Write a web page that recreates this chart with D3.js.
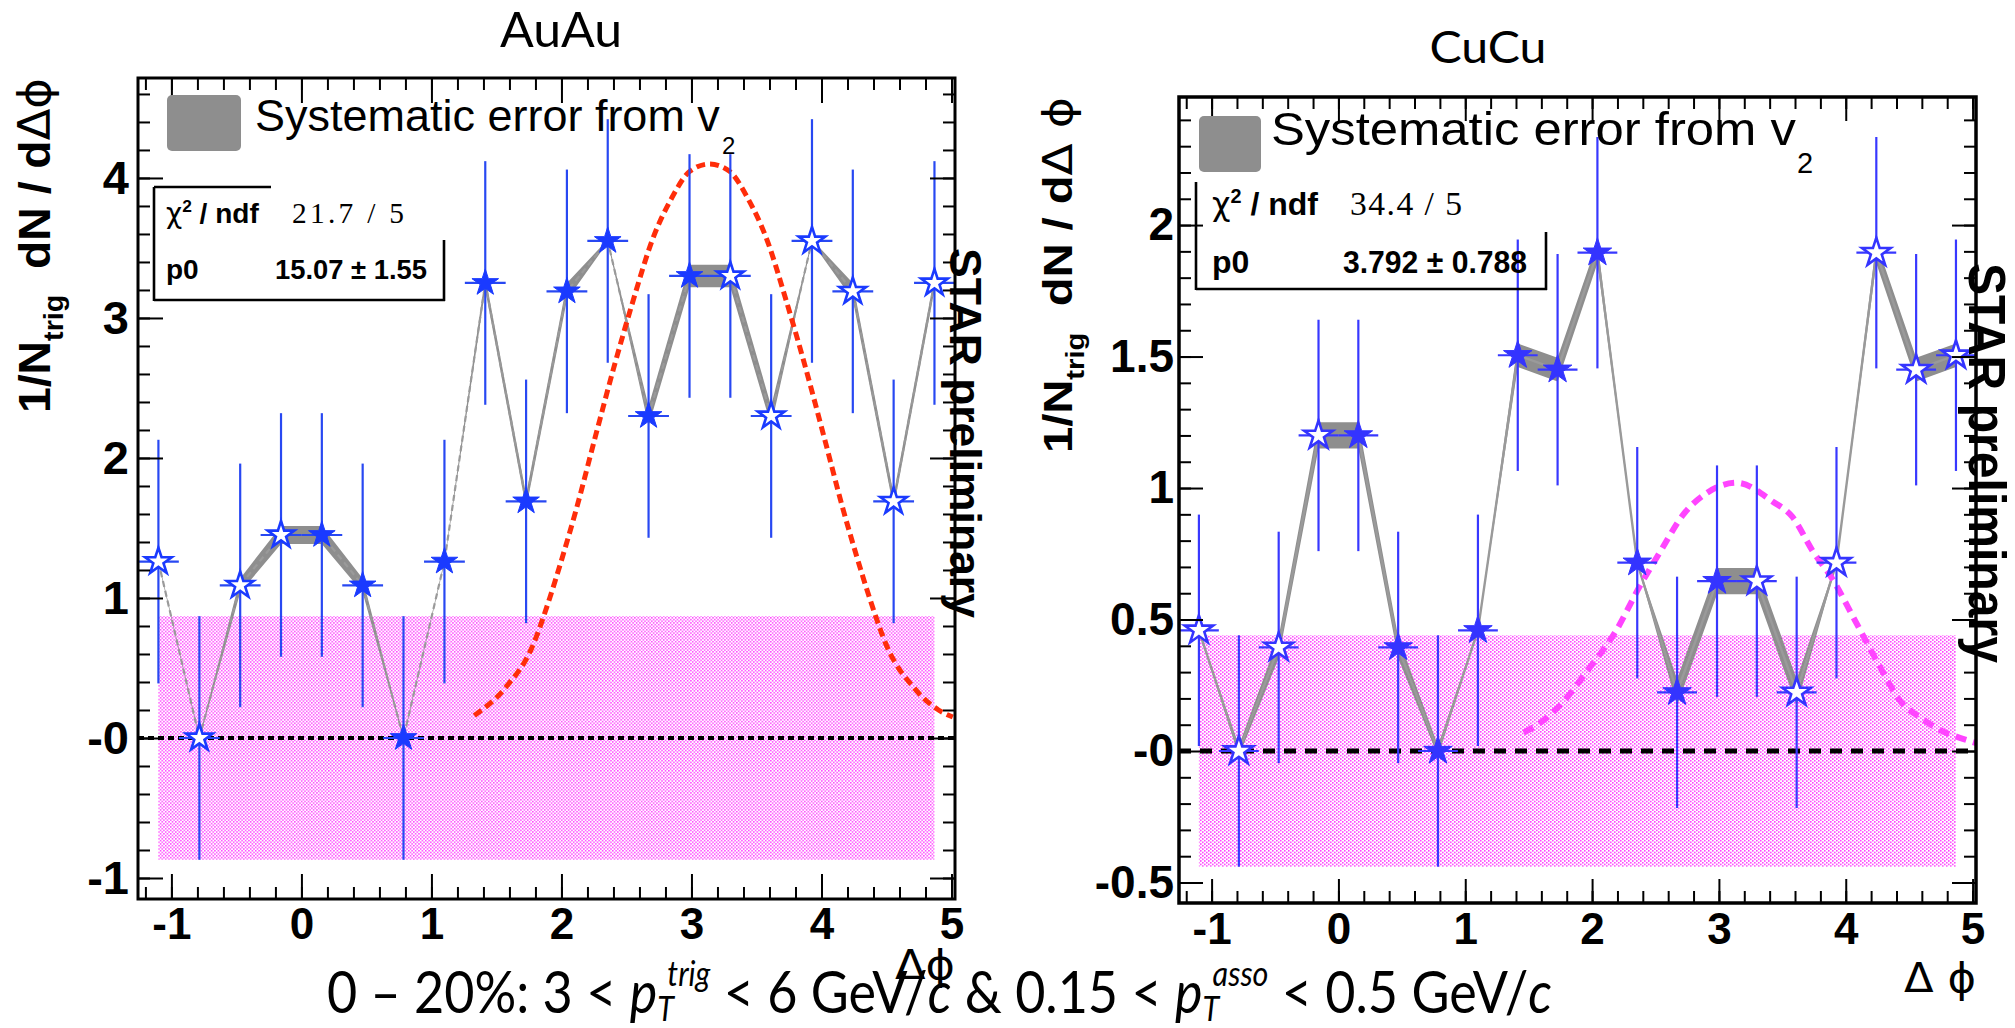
<!DOCTYPE html>
<html>
<head>
<meta charset="utf-8">
<script src="https://cdn.jsdelivr.net/npm/d3@7"></script>
<style>
  body { margin: 0; background: #fff; }
  svg { display: block; }
</style>
</head>
<body>
<svg id="canvas"></svg>
<script>
let width = 2015;
let height = 1028;

// bin centres in delta phi, shared by both panels
let phiCenters = [-1.100, -0.785, -0.471, -0.157, 0.157, 0.471, 0.785, 1.100, 1.414, 1.728,
                  2.042, 2.356, 2.670, 2.985, 3.299, 3.613, 3.927, 4.241, 4.555, 4.869];
// filled star = measured bin, open star = reflected bin
let filledFlags = [false, false, false, false, true, true, true, true, true, true,
                   true, true, true, true, false, false, false, false, false, false];
let binHalfWidth = 0.157;

// AuAu
let auauValues = [1.26, 0.00, 1.09, 1.45, 1.45, 1.09, 0.00, 1.26, 3.25, 1.69,
                  3.19, 3.55, 2.30, 3.30, 3.30, 2.30, 3.55, 3.19, 1.69, 3.25];
let auauErrors = [0.87, 0.87, 0.87, 0.87, 0.87, 0.87, 0.87, 0.87, 0.87, 0.87,
                  0.87, 0.87, 0.87, 0.87, 0.87, 0.87, 0.87, 0.87, 0.87, 0.87];
let auauSys = [0.01, 0.01, 0.05, 0.065, 0.065, 0.05, 0.01, 0.01, 0.05, 0.05,
               0.06, 0.01, 0.07, 0.08, 0.08, 0.07, 0.01, 0.06, 0.05, 0.05];
let auauBandHalf = 0.87;
let auauFitPhi = [1.33, 1.57, 1.77, 1.91, 2.01, 2.11, 2.26, 2.41, 2.55, 2.70, 2.85, 2.99, 3.14,
                  3.29, 3.43, 3.58, 3.73, 3.87, 4.02, 4.17, 4.27, 4.37, 4.51, 4.71, 4.90, 5.01];
let auauFitValues = [0.16, 0.36, 0.64, 1.00, 1.30, 1.62, 2.15, 2.67, 3.12, 3.56, 3.86, 4.05, 4.10,
                     4.05, 3.86, 3.56, 3.12, 2.67, 2.15, 1.62, 1.30, 1.00, 0.64, 0.36, 0.20, 0.15];
let auauYTicks = [-1, 0, 1, 2, 3, 4];
let auauYLabels = ['-1', '-0', '1', '2', '3', '4'];

// CuCu
let cucuValues = [0.459, 0.000, 0.394, 1.200, 1.200, 0.394, 0.000, 0.459, 1.505, 1.450,
                  1.895, 0.716, 0.223, 0.646, 0.646, 0.223, 0.716, 1.895, 1.450, 1.505];
let cucuErrors = [0.44, 0.44, 0.44, 0.44, 0.44, 0.44, 0.44, 0.44, 0.44, 0.44,
                  0.44, 0.44, 0.44, 0.44, 0.44, 0.44, 0.44, 0.44, 0.44, 0.44];
let cucuSys = [0.005, 0.02, 0.04, 0.05, 0.05, 0.04, 0.02, 0.005, 0.045, 0.045,
               0.04, 0.005, 0.05, 0.05, 0.05, 0.05, 0.005, 0.04, 0.045, 0.045];
let cucuBandHalf = 0.44;
let cucuFitPhi = [1.46, 1.60, 1.76, 1.97, 2.18, 2.38, 2.54, 2.72, 2.90, 3.14, 3.42,
                  3.58, 3.74, 3.90, 4.08, 4.27, 4.43, 4.61, 4.74, 4.90, 5.03];
let cucuFitValues = [0.07, 0.11, 0.18, 0.31, 0.45, 0.63, 0.76, 0.90, 0.98, 1.02, 0.95,
                     0.89, 0.76, 0.65, 0.49, 0.32, 0.19, 0.12, 0.08, 0.05, 0.03];
let cucuYTicks = [-0.5, 0, 0.5, 1, 1.5, 2];
let cucuYLabels = ['-0.5', '-0', '0.5', '1', '1.5', '2'];

let xTicks = [-1, 0, 1, 2, 3, 4, 5];
let xLabels = ['-1', '0', '1', '2', '3', '4', '5'];

let helv = 'Liberation Sans, Arial, Helvetica, sans-serif';
let slide = 'Lato, Open Sans, sans-serif';

let svg = d3.select('#canvas').attr('width', width).attr('height', height);

let defs = svg.append('defs');
let addDots = (id, w, h, dot, color) => {
  let p = defs.append('pattern').attr('id', id).attr('patternUnits', 'userSpaceOnUse')
    .attr('width', w).attr('height', h);
  p.append('rect').attr('width', w).attr('height', h).attr('fill', '#fff');
  p.append('rect').attr('x', 0).attr('y', 0).attr('width', dot).attr('height', dot).attr('fill', color);
  p.append('rect').attr('x', w / 2).attr('y', h / 2).attr('width', dot).attr('height', dot).attr('fill', color);
};
addDots('dotsL', 3.4, 3.4, 1.5, '#ff44ff');
addDots('dotsR', 4, 3.4, 1.6, '#ff44ff');

let fitText = (sel, x, y, rot, target) => {
  let w = sel.node().getComputedTextLength();
  let s = target ? target / w : 1;
  sel.attr('transform', 'translate(' + x + ',' + y + ') rotate(' + rot + ') scale(' + s + ',1)');
};

let drawPanel = (p) => {
  let g = svg.append('g');
  let xScale = d3.scaleLinear().domain([-1.257, 5.027]).range([p.left, p.right]);
  let yScale = d3.scaleLinear().domain([p.yMin, p.yMax]).range([p.bottom, p.top]);
  let pts = phiCenters.map((phi, i) => ({ phi: phi, v: p.values[i], e: p.errors[i], s: p.sys[i], filled: filledFlags[i] }));

  // normalisation band
  g.append('rect')
    .attr('x', xScale(phiCenters[0]))
    .attr('y', yScale(p.bandHalf))
    .attr('width', xScale(phiCenters[phiCenters.length - 1]) - xScale(phiCenters[0]))
    .attr('height', yScale(-p.bandHalf) - yScale(p.bandHalf))
    .attr('fill', 'url(#' + p.pattern + ')');

  // zero line
  g.append('line')
    .attr('x1', p.left).attr('x2', p.right)
    .attr('y1', yScale(0)).attr('y2', yScale(0))
    .attr('stroke', '#000').attr('stroke-width', p.zeroWidth).attr('stroke-dasharray', p.zeroDash);

  // v2 systematic band
  let area = d3.area().x(d => xScale(d.phi)).y0(d => yScale(d.v - d.s)).y1(d => yScale(d.v + d.s));
  g.append('path').attr('d', area(pts)).attr('fill', '#8e8e8e');

  let line = d3.line().x(d => xScale(d.phi)).y(d => yScale(d.v));
  g.append('path').attr('d', line(pts)).attr('fill', 'none')
    .attr('stroke', '#9a9a9a').attr('stroke-width', p.lineWidth)
    .attr('stroke-dasharray', p.lineDash);

  // fit curve
  let fitPts = p.fitPhi.map((phi, i) => [xScale(phi), yScale(p.fitValues[i])]);
  g.append('path').attr('d', d3.line().curve(d3.curveMonotoneX)(fitPts))
    .attr('fill', 'none').attr('stroke', p.fitColor).attr('stroke-width', p.fitWidth)
    .attr('stroke-dasharray', p.fitDash);

  // error bars
  g.selectAll('.ey').data(pts).enter().append('line')
    .attr('x1', d => xScale(d.phi)).attr('x2', d => xScale(d.phi))
    .attr('y1', d => yScale(d.v + d.e)).attr('y2', d => yScale(d.v - d.e))
    .attr('stroke', p.barColor).attr('stroke-width', 2.2);
  g.selectAll('.ex').data(pts).enter().append('line')
    .attr('x1', d => xScale(d.phi - binHalfWidth)).attr('x2', d => xScale(d.phi + binHalfWidth))
    .attr('y1', d => yScale(d.v)).attr('y2', d => yScale(d.v))
    .attr('stroke', p.barColor).attr('stroke-width', 2.2);

  // star markers
  let star = d3.symbol(d3.symbolStar, p.starR * p.starR / 0.8908130915292852);
  g.selectAll('.star').data(pts).enter().append('path')
    .attr('d', star)
    .attr('transform', d => 'translate(' + xScale(d.phi) + ',' + yScale(d.v) + ')')
    .attr('fill', d => d.filled ? p.markerColor : '#fff')
    .attr('stroke', p.markerColor)
    .attr('stroke-width', d => d.filled ? 1 : 2.6)
    .attr('stroke-linejoin', 'miter');

  // ticks on all four sides, pointing inwards
  let xMinor = d3.range(-6, 26).map(i => i * 0.2);
  let yMinor = d3.range(Math.ceil(p.yMin / p.yMinorStep), Math.floor(p.yMax / p.yMinorStep) + 1).map(i => i * p.yMinorStep);
  let tickAxis = (axis, tr) => {
    let a = g.append('g').attr('transform', tr).call(axis);
    a.select('.domain').remove();
    a.selectAll('.tick line').attr('stroke', '#000').attr('stroke-width', 2);
    return a;
  };
  let xb = tickAxis(d3.axisBottom(xScale).tickValues(xTicks).tickSize(-p.majorLen).tickPadding(p.xPad)
    .tickFormat((d, i) => xLabels[i]), 'translate(0,' + p.bottom + ')');
  xb.selectAll('text').attr('font-family', helv).attr('font-weight', 'bold').attr('font-size', p.xFont).attr('fill', '#000');
  tickAxis(d3.axisBottom(xScale).tickValues(xMinor).tickSize(-p.minorLen).tickFormat(''), 'translate(0,' + p.bottom + ')');
  tickAxis(d3.axisTop(xScale).tickValues(xTicks).tickSize(-p.majorLen).tickFormat(''), 'translate(0,' + p.top + ')');
  tickAxis(d3.axisTop(xScale).tickValues(xMinor).tickSize(-p.minorLen).tickFormat(''), 'translate(0,' + p.top + ')');
  let yl = tickAxis(d3.axisLeft(yScale).tickValues(p.yTicks).tickSize(-p.majorLen).tickPadding(p.yPad)
    .tickFormat((d, i) => p.yLabels[i]), 'translate(' + p.left + ',0)');
  yl.selectAll('text').attr('font-family', helv).attr('font-weight', 'bold').attr('font-size', p.yFont).attr('fill', '#000');
  tickAxis(d3.axisLeft(yScale).tickValues(yMinor).tickSize(-p.minorLen).tickFormat(''), 'translate(' + p.left + ',0)');
  tickAxis(d3.axisRight(yScale).tickValues(p.yTicks).tickSize(-p.majorLen).tickFormat(''), 'translate(' + p.right + ',0)');
  tickAxis(d3.axisRight(yScale).tickValues(yMinor).tickSize(-p.minorLen).tickFormat(''), 'translate(' + p.right + ',0)');

  g.append('rect')
    .attr('x', p.left).attr('y', p.top)
    .attr('width', p.right - p.left).attr('height', p.bottom - p.top)
    .attr('fill', 'none').attr('stroke', '#000').attr('stroke-width', p.frameW);
  return g;
};

drawPanel({
  values: auauValues, errors: auauErrors, sys: auauSys, bandHalf: auauBandHalf,
  fitPhi: auauFitPhi, fitValues: auauFitValues, yTicks: auauYTicks, yLabels: auauYLabels,
  left: 138, right: 955, top: 78, bottom: 899, yMin: -1.15, yMax: 4.714, yMinorStep: 0.2,
  markerColor: '#1a3aff', barColor: '#2848f2', fitColor: '#ff2d0a', fitDash: '9,5', fitWidth: 5,
  lineWidth: 2.2, lineDash: '6,4', zeroDash: '6,4', zeroWidth: 4, pattern: 'dotsL',
  starR: 14, frameW: 3, majorLen: 25, minorLen: 12, xFont: 44, yFont: 47, xPad: 9, yPad: 9
});

drawPanel({
  values: cucuValues, errors: cucuErrors, sys: cucuSys, bandHalf: cucuBandHalf,
  fitPhi: cucuFitPhi, fitValues: cucuFitValues, yTicks: cucuYTicks, yLabels: cucuYLabels,
  left: 1179, right: 1976, top: 97, bottom: 903, yMin: -0.578, yMax: 2.487, yMinorStep: 0.1,
  markerColor: '#3434ff', barColor: '#3838ff', fitColor: '#ff44ff', fitDash: '11,7', fitWidth: 6,
  lineWidth: 2.4, lineDash: null, zeroDash: '12,9', zeroWidth: 5, pattern: 'dotsR',
  starR: 15, frameW: 3.5, majorLen: 24, minorLen: 12, xFont: 44, yFont: 46, xPad: 10, yPad: 5
});

// legends and fit boxes
let ann = svg.append('g');

let legend = (bx, by, bw, bh, tx, ty, size, target, sx, sy, ssize) => {
  ann.append('rect').attr('x', bx).attr('y', by).attr('width', bw).attr('height', bh)
    .attr('rx', 5).attr('fill', '#8e8e8e');
  let t = ann.append('text').attr('font-family', helv).attr('font-size', size).attr('fill', '#000')
    .text('Systematic error from v');
  fitText(t, tx, ty, 0, target);
  ann.append('text').attr('x', sx).attr('y', sy).attr('font-family', helv).attr('font-size', ssize)
    .attr('fill', '#000').text('2');
};
legend(167, 95, 74, 56, 255, 131, 44, 465, 722, 154, 24);
legend(1199, 116, 62, 56, 1271, 145, 47, 525, 1797, 173, 29);

let statBox = (segs, x0, y1, y2, size, chiVal, chiX, chiW, pVal, pX, pW) => {
  segs.forEach(s => ann.append('line').attr('x1', s[0]).attr('y1', s[1]).attr('x2', s[2]).attr('y2', s[3])
    .attr('stroke', '#000').attr('stroke-width', 2.6));
  let c = ann.append('text').attr('x', x0).attr('y', y1).attr('font-family', helv)
    .attr('font-weight', 'bold').attr('font-size', size).attr('fill', '#000');
  c.append('tspan').attr('font-weight', 'normal').attr('font-family', 'DejaVu Sans').text('χ');
  c.append('tspan').attr('font-size', size * 0.62).attr('dy', -size * 0.38).text('2');
  c.append('tspan').attr('dy', size * 0.38).text(' / ndf');
  ann.append('text').attr('x', chiX).attr('y', y1).attr('font-family', 'Liberation Serif, Times New Roman, serif')
    .attr('font-size', size * 1.05).attr('fill', '#000')
    .attr('textLength', chiW).attr('lengthAdjust', 'spacing').text(chiVal);
  ann.append('text').attr('x', x0).attr('y', y2).attr('font-family', helv)
    .attr('font-weight', 'bold').attr('font-size', size).attr('fill', '#000').text('p0');
  ann.append('text').attr('x', pX).attr('y', y2).attr('font-family', helv)
    .attr('font-weight', 'bold').attr('font-size', size).attr('fill', '#000')
    .attr('textLength', pW).attr('lengthAdjust', 'spacingAndGlyphs').text(pVal);
};
statBox([[154, 187, 154, 301], [154, 300, 445, 300], [154, 187, 271, 187], [444, 240, 444, 301]],
  166, 223, 279, 28, '21.7 / 5', 292, 112, '15.07 ± 1.55', 275, 152);
statBox([[1196, 182, 1196, 290], [1196, 289, 1547, 289], [1546, 232, 1546, 290]],
  1212, 215, 273, 32, '34.4 / 5', 1350, 112, '3.792 ± 0.788', 1343, 184);

// STAR preliminary
let star1 = ann.append('text').attr('font-family', helv).attr('font-weight', 'bold')
  .attr('font-size', 45).attr('fill', '#000').text('STAR preliminary');
fitText(star1, 950, 248, 90, 370);
let star2 = ann.append('text').attr('font-family', helv).attr('font-weight', 'bold')
  .attr('font-size', 52).attr('fill', '#000').text('STAR preliminary');
fitText(star2, 1969, 263, 90, 400);

// axis titles
let yTitle = (x, y, size, target, tail) => {
  let t = ann.append('text').attr('font-family', helv).attr('font-weight', 'bold')
    .attr('font-size', size).attr('fill', '#000');
  t.append('tspan').text('1/N');
  t.append('tspan').attr('font-size', size * 0.62).attr('dy', size * 0.3).text('trig');
  t.append('tspan').attr('dy', -size * 0.3).text('\u00a0\u00a0dN\u00a0/\u00a0d');
  t.append('tspan').attr('font-weight', 'normal').attr('font-family', 'DejaVu Sans').text(tail);
  fitText(t, x, y, -90, target);
};
yTitle(50, 413, 44, 335, 'Δϕ');
yTitle(1072, 453, 41, 356, 'Δ\u00a0ϕ');

let xt1 = ann.append('text').attr('font-family', 'DejaVu Sans').attr('font-size', 40)
  .attr('fill', '#000').text('Δϕ');
fitText(xt1, 895, 979, 0, 60);
let xt2 = ann.append('text').attr('font-family', 'DejaVu Sans').attr('font-size', 40)
  .attr('fill', '#000').text('Δ\u00a0ϕ');
fitText(xt2, 1904, 992, 0, 72);

// panel titles
let title1 = ann.append('text').attr('font-family', slide).attr('font-size', 48)
  .attr('text-anchor', 'middle').attr('fill', '#000').text('AuAu');
fitText(title1, 561, 47, 0, 122);
let title2 = ann.append('text').attr('font-family', slide).attr('font-size', 44)
  .attr('text-anchor', 'middle').attr('fill', '#000').text('CuCu');
fitText(title2, 1488, 63, 0, 117);

// caption with stacked sub/superscripts
let capRuns = [
  { t: '0 – 20%: 3 < ' }, { t: 'p', it: true }, { t: 'T', it: true, sub: true }, { t: 'trig', it: true, sup: true },
  { t: ' < 6 GeV/' }, { t: 'c', it: true }, { t: ' & 0.15 < ' }, { t: 'p', it: true },
  { t: 'T', it: true, sub: true }, { t: 'asso', it: true, sup: true }, { t: ' < 0.5 GeV/' }, { t: 'c', it: true }
];
let cap = ann.append('g');
let cx = 0, subStart = 0, subEnd = 0;
capRuns.forEach(r => {
  let size = (r.sub || r.sup) ? 34 : 58;
  let t = cap.append('text').attr('font-family', slide).attr('font-size', size).attr('fill', '#000')
    .attr('font-style', r.it ? 'italic' : 'normal')
    .text(r.t.replace(/ /g, '\u00a0'));
  let w = t.node().getComputedTextLength();
  if (r.sub) {
    t.attr('x', cx).attr('y', 8);
    subStart = cx; subEnd = cx + w; cx = subEnd;
  } else if (r.sup) {
    let sx = subStart + (subEnd - subStart) * 0.6;
    t.attr('x', sx).attr('y', -27);
    cx = Math.max(subEnd, sx + w);
  } else {
    t.attr('x', cx).attr('y', 0);
    cx += w;
  }
});
cap.attr('transform', 'translate(327,1013) scale(' + (1225 / cx) + ',1)');
</script>
</body>
</html>
